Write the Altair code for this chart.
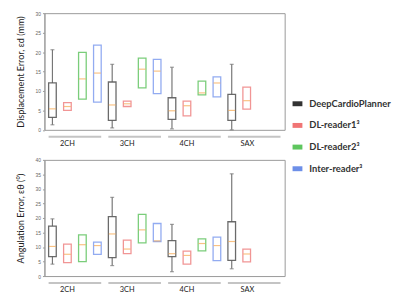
import altair as alt
import pandas as pd

groups = ["2CH", "3CH", "4CH", "SAX"]
series = ["DeepCardioPlanner", "DL-reader1³", "DL-reader2³", "Inter-reader³"]
box_colors = ["#5a5a5a", "#f08a8a", "#6cc86c", "#86a2f0"]
legend_colors = ["#333333", "#f07575", "#5ec65e", "#6d8fe8"]
median_color = "#f7a850"

row_groups = ["2CH"] * 4 + ["3CH"] * 4 + ["4CH"] * 4 + ["SAX"] * 2
row_series = series * 3 + series[:2]

disp_min = [1.3, 5.0, 7.9, 7.1, 0.5, 6.0, 10.8, 9.3, 0.25, 3.6, 9.0, 8.5, 0.0, 5.3]
disp_q1 = [3.2, 5.0, 7.9, 7.1, 2.45, 6.0, 10.8, 9.3, 2.7, 3.6, 9.0, 8.5, 2.45, 5.3]
disp_med = [5.4, 6.0, 13.1, 14.6, 6.4, 6.7, 15.6, 15.1, 4.9, 6.2, 9.5, 12.05, 5.0, 7.5]
disp_q3 = [12.05, 7.0, 19.9, 21.8, 12.3, 7.4, 18.45, 18.1, 8.25, 7.4, 12.5, 13.6, 9.1, 11.0]
disp_max = [20.6, 7.0, 19.9, 21.8, 16.85, 7.4, 18.45, 18.1, 16.1, 7.4, 12.5, 13.6, 16.85, 11.0]

ang_min = [4.1, 4.65, 5.0, 7.5, 3.6, 7.7, 11.4, 11.9, 1.5, 4.1, 8.7, 5.3, 2.5, 4.9]
ang_q1 = [6.7, 4.65, 5.0, 7.5, 6.35, 7.7, 11.4, 11.9, 6.7, 4.1, 8.7, 5.3, 5.4, 4.9]
ang_med = [10.2, 7.5, 10.8, 10.5, 14.5, 9.3, 15.9, 12.1, 7.7, 7.1, 11.2, 10.5, 11.9, 7.6]
ang_q3 = [17.2, 11.0, 14.2, 11.7, 20.5, 12.35, 21.2, 18.1, 12.2, 8.6, 12.8, 13.4, 18.7, 9.3]
ang_max = [19.7, 11.0, 14.2, 11.7, 27.1, 12.35, 21.2, 18.1, 17.8, 8.6, 12.8, 13.4, 35.2, 9.3]

FONT = "Lato"
W = 244


def make_df(lo, q1, med, q3, hi):
    return pd.DataFrame({"group": row_groups, "series": row_series,
                         "lo": lo, "q1": q1, "med": med, "q3": q3, "hi": hi})


def panel(df, ymax, title, h, with_legend):
    x = alt.X("group:N", sort=groups,
              scale=alt.Scale(paddingInner=0.12, paddingOuter=0.07),
              axis=alt.Axis(title=None, domain=False, ticks=False, labelAngle=0,
                            labelPadding=14, labelFontSize=7.5, labelFont=FONT,
                            labelColor="#222"))
    xo = alt.XOffset("series:N", sort=series,
                     scale=alt.Scale(domain=series, paddingInner=0.49, paddingOuter=0))
    yscale = alt.Scale(domain=[0, ymax], nice=False)
    yaxis = alt.Axis(title=title, values=list(range(0, ymax + 1, 5)), grid=False,
                     labelOverlap=False, labelFontSize=5, labelColor="#666",
                     tickSize=2, tickColor="#999",
                     domainColor="#999", titleFont=FONT, titleFontSize=9.2,
                     titleFontWeight="normal", titleColor="#222", titlePadding=10,
                     labelPadding=2)

    def Y(field):
        return alt.Y(field, scale=yscale, axis=yaxis)

    stroke = alt.Stroke("series:N", scale=alt.Scale(domain=series, range=box_colors), legend=None)
    base = alt.Chart(df).encode(x=x, xOffset=xo)

    under = alt.Chart(pd.DataFrame({"group": groups})).mark_bar(color="#c4c4c4").encode(
        x=alt.X("group:N", sort=groups), y=alt.value(h + 6), y2=alt.value(h + 8))

    black = base.transform_filter(alt.datum.series == series[0])
    whisk = black.mark_rule(color="#777", strokeWidth=1.2).encode(y=Y("lo:Q"), y2="hi:Q")
    cap_lo = black.mark_tick(color="#777", size=4, thickness=1.2).encode(y=Y("lo:Q"))
    cap_hi = black.mark_tick(color="#777", size=4, thickness=1.2).encode(y=Y("hi:Q"))
    box = base.mark_bar(fill="white", strokeWidth=1.3, strokeOpacity=0.9).encode(
        y=Y("q1:Q"), y2="q3:Q", stroke=stroke)
    med = base.mark_tick(color=median_color, thickness=1.2, size=7).encode(y=Y("med:Q"))
    layers = [under, whisk, cap_lo, cap_hi, box, med]
    if with_legend:
        leg = base.mark_point(opacity=0, filled=True).encode(
            y=Y("med:Q"),
            fill=alt.Fill("series:N", sort=series,
                          scale=alt.Scale(domain=series, range=legend_colors),
                          legend=alt.Legend(title=None, orient="none", legendX=251, legendY=86,
                                            symbolType="M-1,-0.5L1,-0.5L1,0.5L-1,0.5Z",
                                            symbolSize=100, symbolOpacity=1,
                                            labelFont=FONT, labelFontSize=9.5,
                                            labelFontWeight="bold", labelColor="#333",
                                            rowPadding=11, labelOffset=6)))
        layers.append(leg)
    return alt.layer(*layers).properties(width=W, height=h)


top = panel(make_df(disp_min, disp_q1, disp_med, disp_q3, disp_max), 30,
            "Displacement Error, εd (mm)", 118.5, True)
bottom = panel(make_df(ang_min, ang_q1, ang_med, ang_q3, ang_max), 40,
               "Angulation Error, εθ (°)", 118, False)

chart = alt.vconcat(top, bottom, spacing=30, bounds="flush").resolve_scale(
    fill="independent").properties(
    padding={"top": 0, "left": 7, "right": 0, "bottom": 0}
).configure_view(stroke="#999", strokeWidth=1)

chart.save("out.html", embed_options={"renderer": "svg", "actions": False})
